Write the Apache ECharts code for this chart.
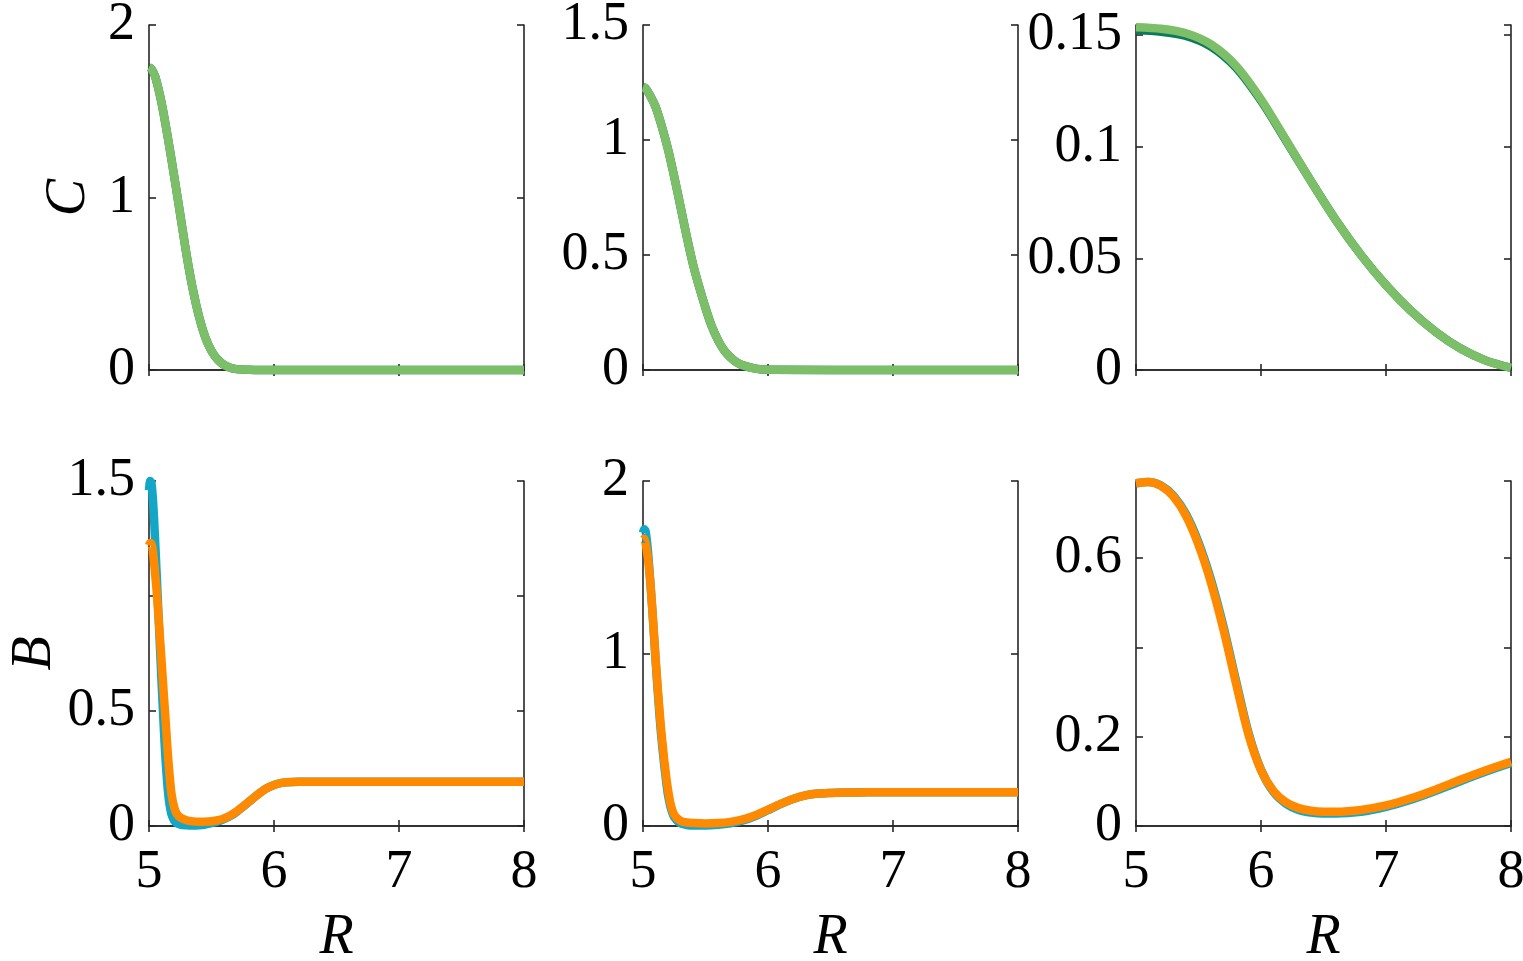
<!DOCTYPE html>
<html>
<head>
<meta charset="utf-8">
<script src="https://cdn.jsdelivr.net/npm/echarts@6/dist/echarts.min.js"></script>
<style>
  html, body { margin: 0; padding: 0; background: #fff; }
  #chart { width: 1523px; height: 961px; }
</style>
</head>
<body>
<div id="chart"></div>
<script>
// ---- data ----
var R1 = [5.00,5.02,5.05,5.10,5.15,5.20,5.25,5.30,5.35,5.40,5.45,5.50,5.55,5.60,5.65,5.70,5.80,5.90,6.00,7.00,8.00];
var C1_dark  = [1.755,1.745,1.70,1.55,1.35,1.13,0.90,0.67,0.47,0.31,0.19,0.11,0.06,0.03,0.013,0.005,0.001,0,0,0,0];
var C1_light = [1.755,1.745,1.70,1.55,1.35,1.13,0.90,0.67,0.47,0.31,0.19,0.11,0.06,0.03,0.013,0.005,0.001,0,0,0,0];

var R2 = [5.00,5.02,5.05,5.10,5.15,5.20,5.25,5.30,5.35,5.40,5.45,5.50,5.55,5.60,5.65,5.70,5.75,5.80,5.90,6.00,7.00,8.00];
var C2_dark  = [1.23,1.225,1.20,1.145,1.06,0.96,0.84,0.71,0.58,0.46,0.36,0.27,0.19,0.13,0.085,0.055,0.033,0.02,0.006,0.001,0,0];
var C2_light = [1.23,1.225,1.20,1.145,1.06,0.96,0.84,0.71,0.58,0.46,0.36,0.27,0.19,0.13,0.085,0.055,0.033,0.02,0.006,0.001,0,0];

var R3 = [5.0,5.2,5.4,5.6,5.8,6.0,6.2,6.4,6.6,6.8,7.0,7.2,7.4,7.6,7.8,8.0];
var C3_dark  = [0.1521,0.1515,0.1496,0.1448,0.1354,0.1206,0.1027,0.0845,0.0670,0.0515,0.0380,0.0265,0.0170,0.0095,0.0042,0.0010];
var C3_light = [0.1535,0.1528,0.1508,0.1458,0.1362,0.1212,0.1030,0.0845,0.0670,0.0515,0.0380,0.0265,0.0170,0.0095,0.0042,0.0010];

var R4 = [5.00,5.01,5.02,5.03,5.04,5.05,5.06,5.07,5.08,5.09,5.10,5.11,5.12,5.13,5.14,5.15,5.16,5.17,5.18,5.20,5.22,5.25,5.30,5.35,5.40,5.45,5.50,5.55,5.60,5.65,5.70,5.75,5.80,5.85,5.90,5.95,6.00,6.05,6.10,6.20,6.50,7.00,7.50,8.00];
var B4_cyan   = [1.46,1.50,1.49,1.43,1.34,1.23,1.11,0.99,0.87,0.75,0.63,0.52,0.41,0.31,0.23,0.16,0.11,0.075,0.05,0.025,0.013,0.006,0.003,0.002,0.003,0.006,0.012,0.020,0.030,0.043,0.061,0.083,0.105,0.128,0.149,0.166,0.178,0.186,0.19,0.192,0.192,0.192,0.192,0.192];
var B4_orange = [1.22,1.23,1.225,1.20,1.15,1.09,1.03,0.955,0.88,0.80,0.72,0.64,0.56,0.48,0.40,0.32,0.25,0.19,0.14,0.085,0.055,0.037,0.025,0.020,0.018,0.019,0.021,0.025,0.033,0.046,0.063,0.084,0.106,0.128,0.149,0.166,0.178,0.186,0.19,0.192,0.192,0.192,0.192,0.192];

var R5 = [5.00,5.01,5.02,5.03,5.04,5.05,5.06,5.07,5.08,5.09,5.10,5.11,5.12,5.13,5.14,5.15,5.16,5.17,5.18,5.19,5.20,5.22,5.25,5.30,5.35,5.40,5.50,5.60,5.70,5.80,5.90,6.00,6.10,6.20,6.30,6.40,6.50,6.60,6.80,7.00,7.50,8.00];
var B5_cyan   = [1.70,1.72,1.71,1.66,1.59,1.50,1.40,1.30,1.19,1.08,0.97,0.86,0.76,0.66,0.57,0.49,0.42,0.35,0.29,0.23,0.18,0.11,0.05,0.015,0.006,0.003,0.003,0.007,0.016,0.032,0.058,0.092,0.127,0.157,0.177,0.188,0.192,0.194,0.195,0.195,0.195,0.195];
var B5_orange = [1.66,1.665,1.64,1.60,1.55,1.48,1.40,1.30,1.20,1.09,0.98,0.88,0.78,0.69,0.60,0.52,0.45,0.38,0.32,0.26,0.21,0.13,0.065,0.03,0.02,0.017,0.015,0.017,0.024,0.038,0.062,0.095,0.128,0.157,0.177,0.188,0.192,0.194,0.195,0.195,0.195,0.195];

var R6 = [5.0,5.1,5.2,5.3,5.4,5.5,5.6,5.7,5.8,5.9,6.0,6.1,6.2,6.3,6.4,6.5,6.6,6.8,7.0,7.2,7.4,7.6,7.8,8.0];
var B6_cyan   = [0.768,0.771,0.763,0.740,0.699,0.636,0.552,0.447,0.326,0.209,0.126,0.076,0.050,0.036,0.030,0.028,0.028,0.032,0.043,0.059,0.079,0.101,0.122,0.141];
var B6_orange = [0.768,0.771,0.762,0.738,0.695,0.630,0.545,0.440,0.320,0.205,0.125,0.078,0.053,0.040,0.034,0.032,0.032,0.036,0.046,0.062,0.082,0.104,0.125,0.144];

var xTicks = ['5','6','7','8'];
var yTicks1 = ['0','1','2'];
var yTicks2 = ['0','0.5','1','1.5'];
var yTicks3 = ['0','0.05','0.1','0.15'];
var yTicks4 = ['0','0.5','','1.5'];
var yTicks5 = ['0','1','2'];
var yTicks6 = ['0','0.2','','0.6'];

var DARK = '#0b7b5b', LIGHT = '#7cbf68', CYAN = '#14a6c6', ORANGE = '#ff8a00';
var FONT = '"Liberation Serif", "DejaVu Serif", serif';

var panels = [
  { xs: R1, lines: [[C1_dark, DARK], [C1_light, LIGHT]], max: 2, step: 1, ticks: yTicks1, name: 'C', gap: 52 },
  { xs: R2, lines: [[C2_dark, DARK], [C2_light, LIGHT]], max: 1.5, step: 0.5, ticks: yTicks2 },
  { xs: R3, lines: [[C3_dark, DARK], [C3_light, LIGHT]], max: 0.1545, step: 0.05, ticks: yTicks3 },
  { xs: R4, lines: [[B4_cyan, CYAN], [B4_orange, ORANGE]], max: 1.5, step: 0.5, ticks: yTicks4, name: 'B', gap: 70 },
  { xs: R5, lines: [[B5_cyan, CYAN], [B5_orange, ORANGE]], max: 2, step: 1, ticks: yTicks5 },
  { xs: R6, lines: [[B6_cyan, CYAN], [B6_orange, ORANGE]], max: 0.773, step: 0.2, ticks: yTicks6 }
];

var colLeft = [149, 643, 1136], rowTop = [25, 481];
var W = 375, H = 345;

var axisLineStyle = { color: '#262626', width: 1.6 };
var grids = [], xAxes = [], yAxes = [], series = [];

panels.forEach(function (p, i) {
  var col = i % 3, row = Math.floor(i / 3);
  grids.push({ left: colLeft[col], top: rowTop[row], width: W, height: H,
               containLabel: false, outerBoundsMode: 'none' });
  var bottomRow = row === 1;
  // bottom x axis
  xAxes.push({
    type: 'value', gridIndex: i, position: 'bottom', min: 5, max: 8, interval: 1,
    axisLine: { show: true, lineStyle: axisLineStyle },
    axisTick: { show: true, inside: true, length: 6, lineStyle: axisLineStyle },
    splitLine: { show: false },
    axisLabel: {
      show: bottomRow, fontFamily: FONT, fontSize: 54, color: '#000', margin: 20,
      formatter: function (v) { return xTicks[Math.round(v - 5)] || ''; }
    },
    name: bottomRow ? 'R' : '', nameLocation: 'middle', nameGap: 84,
    nameTextStyle: { fontFamily: FONT, fontStyle: 'italic', fontSize: 56, color: '#000' }
  });
  // top x axis (ticks only)
  xAxes.push({
    type: 'value', gridIndex: i, position: 'top', min: 5, max: 8, interval: 1,
    axisLine: { show: true, lineStyle: axisLineStyle },
    axisTick: { show: true, inside: true, length: 6, lineStyle: axisLineStyle },
    splitLine: { show: false }, axisLabel: { show: false }
  });
  var ticks = p.ticks, step = p.step;
  yAxes.push({
    type: 'value', gridIndex: i, position: 'left', min: 0, max: p.max, interval: step,
    axisLine: { show: true, lineStyle: axisLineStyle },
    axisTick: { show: true, inside: true, length: 7, lineStyle: axisLineStyle },
    splitLine: { show: false },
    axisLabel: {
      fontFamily: FONT, fontSize: 54, color: '#000', margin: 14,
      formatter: function (v) {
        var k = Math.round(v / step);
        if (Math.abs(v - k * step) > step * 1e-3) return '';
        return ticks[k] !== undefined ? ticks[k] : '';
      }
    },
    name: p.name || '', nameLocation: 'middle', nameRotate: 90, nameGap: p.gap || 0,
    nameTextStyle: { fontFamily: FONT, fontStyle: 'italic', fontSize: 56, color: '#000' }
  });
  yAxes.push({
    type: 'value', gridIndex: i, position: 'right', min: 0, max: p.max, interval: step,
    axisLine: { show: true, lineStyle: axisLineStyle },
    axisTick: { show: true, inside: true, length: 7, lineStyle: axisLineStyle },
    splitLine: { show: false }, axisLabel: { show: false }
  });
  p.lines.forEach(function (ln) {
    series.push({
      type: 'line', xAxisIndex: 2 * i, yAxisIndex: 2 * i,
      data: p.xs.map(function (x, k) { return [x, ln[0][k]]; }),
      showSymbol: false, smooth: 0.3, clip: false, animation: false,
      lineStyle: { color: ln[1], width: 8.5, cap: 'butt', join: 'round' },
      itemStyle: { color: ln[1] }
    });
  });
});

var myChart = echarts.init(document.getElementById('chart'));
myChart.setOption({
  backgroundColor: '#fff',
  animation: false,
  grid: grids,
  xAxis: xAxes,
  yAxis: yAxes,
  series: series
});
</script>
</body>
</html>
